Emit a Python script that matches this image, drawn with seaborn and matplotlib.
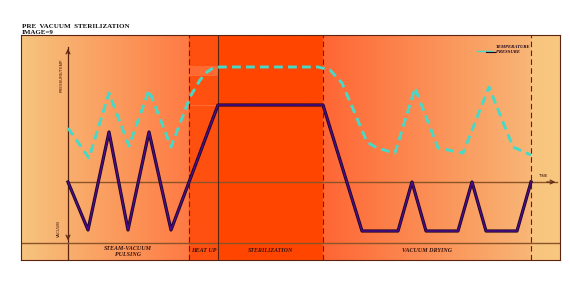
import numpy as np
import matplotlib
matplotlib.use("Agg")
import matplotlib.pyplot as plt
import matplotlib.patheffects as pe
import seaborn as sns
import pandas as pd

# ---- data (time units, value units; 0 = time axis) ----
solid_t = [0, 2.0, 4.1, 6.0, 8.1, 10.3, 15.0, 25.5, 29.4, 33.0, 34.4, 35.8, 39.0, 40.4, 41.8, 44.9, 46.3]
solid_v = [0, -4.8, 5.0, -4.8, 5.0, -4.8, 7.7, 7.7, -4.9, -4.9, 0, -4.9, -4.9, 0, -4.9, -4.9, 0]

dash_t = [0, 2.1, 4.1, 6.1, 8.1, 10.3, 12.2, 13.2, 13.9, 14.5, 15.2, 25.0, 26.2, 27.4,
          29.9, 30.9, 32.7, 34.7, 37.0, 39.5, 42.1, 44.5, 46.3]
dash_v = [5.4, 2.4, 8.9, 3.6, 9.2, 3.5, 8.5, 10.2, 11.0, 11.4, 11.5, 11.5, 11.2, 9.9,
          4.0, 3.4, 2.9, 9.4, 3.4, 2.9, 9.5, 3.5, 2.7]

phase_names = ["STEAM-VACUUM\nPULSING", "HEAT UP", "STERILIZATION", "VACUUM DRYING"]
phase_edges = [0, 12.1, 15.0, 25.5, 46.3]
legend_labels = ["TEMPERATURE", "PRESSURE"]

x_min, x_max = -4.7, 49.2
y_min, y_max = -7.8, 14.7
sep_y = -6.1

fig = plt.figure(figsize=(5.7, 2.97), dpi=100)
fig.patch.set_facecolor("white")
ax = fig.add_axes([21 / 570, 1 - 260 / 297, 539 / 570, 225 / 297])
ax.set_xlim(x_min, x_max)
ax.set_ylim(y_min, y_max)

# ---- background gradient ----
def hx(c):
    c = c.lstrip("#")
    return [int(c[i:i + 2], 16) / 255 for i in (0, 2, 4)]

stops_t = [x_min, 12.09, 12.1, 14.99, 15.0, 25.49, 25.5, 46.29, 46.3, x_max]
stops_c = ["#F6C47E", "#FF7A44", "#FF5010", "#FF5010", "#FF4500", "#FF4500",
           "#FF6634", "#F8B676", "#F8C47E", "#F8C880"]
grid = np.linspace(x_min, x_max, 1200)
cols = np.array([hx(c) for c in stops_c])
img = np.stack([np.interp(grid, stops_t, cols[:, k]) for k in range(3)], axis=-1)
img = np.repeat(img[np.newaxis, :, :], 2, axis=0)
ax.imshow(img, extent=[x_min, x_max, y_min, y_max], aspect="auto", zorder=0,
          interpolation="bilinear")

# faint highlight band in heat-up
ax.fill_between([phase_edges[1], phase_edges[2]], 10.6, 11.6, color="white", alpha=0.15,
                lw=0, zorder=1)
ax.plot([phase_edges[1], phase_edges[2]], [7.7, 7.7], color="white", alpha=0.15, lw=0.8, zorder=1)

brown = "#8A5428"
dark = "#5A2410"

# ---- axes and phase lines ----
ax.plot([0, 48.9], [0, 0], color=brown, lw=1.0, zorder=2)
ax.plot([0, 0], [y_min, 13.5], color=dark, lw=0.9, zorder=2)
ax.plot([x_min, x_max], [sep_y, sep_y], color=brown, lw=1.0, zorder=2)
ax.annotate("", xy=(49.0, 0), xytext=(47.6, 0),
            arrowprops=dict(arrowstyle="->", color=dark, lw=0.8, mutation_scale=7), zorder=3)
ax.annotate("", xy=(0, 13.6), xytext=(0, 12.6),
            arrowprops=dict(arrowstyle="->", color=dark, lw=0.8, mutation_scale=7), zorder=3)
ax.annotate("", xy=(0, sep_y), xytext=(0, sep_y + 1.0),
            arrowprops=dict(arrowstyle="->", color=dark, lw=0.8, mutation_scale=7), zorder=3)

for xe, ls in zip([phase_edges[1], phase_edges[2], phase_edges[3], phase_edges[4]],
                  ["--", "-", "--", "--"]):
    ax.plot([xe, xe], [y_min, y_max], color=dark, lw=0.8, ls=ls,
            dashes=(5, 3) if ls == "--" else (None, None), zorder=2)

# ---- series ----
df_s = pd.DataFrame({"t": solid_t, "v": solid_v})
df_d = pd.DataFrame({"t": dash_t, "v": dash_v})

sns.lineplot(data=df_d, x="t", y="v", ax=ax, color="#46D9C8", lw=2.1, sort=False,
             estimator=None, zorder=4, dashes=False)
ax.lines[-1].set_dashes((3.0, 1.8))

sns.lineplot(data=df_s, x="t", y="v", ax=ax, color="#4A0C8A", lw=1.1, sort=False,
             estimator=None, zorder=5,
             path_effects=[pe.Stroke(linewidth=2.3, foreground="#1C0420"), pe.Normal()])

# ---- text ----
lab_font = dict(family="Liberation Serif", weight="bold", style="italic", size=4.3,
                color="#3A1208")
ax.text(6.0, -6.95, phase_names[0], ha="center", va="center", linespacing=1.1, **lab_font)
for i in (1, 2, 3):
    ax.text((phase_edges[i] + phase_edges[i + 1]) / 2, -6.8, phase_names[i],
            ha="center", va="center", **lab_font)

small = dict(family="Liberation Sans", size=2.8, color="#3A1208")
ax.text(-0.6, 10.7, "PRESSURE/TEMP.", rotation=90, ha="center", va="center", **small)
ax.text(-0.9, -4.7, "VACUUM", rotation=90, ha="center", va="center", **small)
ax.text(47.6, 0.6, "TIME", ha="center", va="center", **small)

# legend
ax.plot([40.9, 42.4], [13.1, 13.1], color="#46D9C8", lw=1.0, zorder=4)
ax.plot([41.8, 42.7], [13.0, 13.0], color="#1C0420", lw=0.8, zorder=4)
leg_font = dict(family="Liberation Serif", weight="bold", style="italic", size=3.3,
                color="#1C0420")
ax.text(42.8, 13.55, legend_labels[0], ha="left", va="center", **leg_font)
ax.text(42.8, 13.0, legend_labels[1], ha="left", va="center", **leg_font)

for s in ax.spines.values():
    s.set_color(dark)
    s.set_linewidth(0.8)
ax.set_xticks([])
ax.set_yticks([])
ax.set_xlabel("")
ax.set_ylabel("")

title_font = dict(family="Liberation Serif", weight="bold", size=5.0, color="#111111")
fig.text(22 / 570, 1 - 26 / 297, "PRE  VACUUM  STERILIZATION", ha="left", va="center",
         **title_font)
fig.text(22 / 570, 1 - 32 / 297, "IMAGE=9", ha="left", va="center", **title_font)

fig.savefig("out.png", dpi=100, facecolor="white")
